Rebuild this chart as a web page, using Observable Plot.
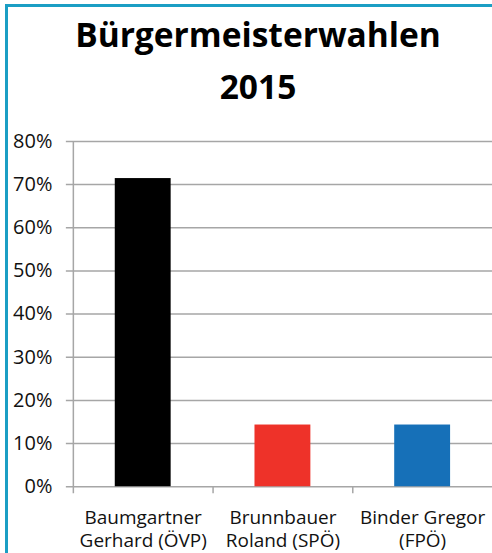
<!DOCTYPE html>
<html>
<head>
<meta charset="utf-8">
<script src="https://cdn.jsdelivr.net/npm/d3@7"></script>
<script src="https://cdn.jsdelivr.net/npm/@observablehq/plot@0.6"></script>
<style>
  html, body { margin: 0; padding: 0; background: #fff; overflow: hidden; width: 492px; height: 553px; }
  #frame { position: absolute; left: 5px; top: 4px; width: 600px; height: 700px; border-top: 3px solid #1b9ec4; border-left: 3px solid #1b9ec4; box-sizing: border-box; }
  .title { position: absolute; left: 8px; width: 500px; text-align: center; font-family: "Open Sans", sans-serif; font-weight: bold; font-size: 33.5px; line-height: 32px; color: #000; white-space: nowrap; }
  #chart { position: absolute; left: 0; top: 115px; }
</style>
</head>
<body>
<div id="frame"></div>
<div class="title" style="top:18px">Bürgermeisterwahlen</div>
<div class="title" style="top:70px">2015</div>
<div id="chart"></div>
<script>
const titleLines = ["Bürgermeisterwahlen", "2015"];
const candidates = ["Baumgartner\nGerhard (ÖVP)", "Brunnbauer\nRoland (SPÖ)", "Binder Gregor\n(FPÖ)"];
const shares = [71.4, 14.3, 14.3];
const colors = ["#000000", "#ee3229", "#1670b8"];
const yTicks = [0, 10, 20, 30, 40, 50, 60, 70, 80];

const data = candidates.map((c, i) => ({candidate: c, share: shares[i], color: colors[i]}));
const grey = "#a6a6a6";
const step = 140;

const chart = Plot.plot({
  width: 493,
  height: 438,
  marginLeft: 73,
  marginRight: 0,
  marginTop: 26,
  marginBottom: 66,
  style: {fontFamily: "'Open Sans', sans-serif", background: "transparent", color: "#111", overflow: "visible"},
  x: {domain: candidates, padding: 0, label: null},
  y: {domain: [0, 80], label: null},
  marks: [
    Plot.ruleY(yTicks, {y: d => d, stroke: grey, strokeWidth: 1.5, insetLeft: -7}),
    Plot.ruleX([candidates[0]], {x: d => d, dx: -step / 2, y1: -1.62, y2: 80, stroke: grey, strokeWidth: 1.5}),
    Plot.ruleX(candidates.slice(1), {x: d => d, dx: -step / 2, y1: -1.62, y2: 0, stroke: grey, strokeWidth: 1.5}),
    Plot.barY(data, {x: "candidate", y: "share", fill: "color", insetLeft: 42, insetRight: 42}),
    Plot.axisY({ticks: yTicks, tickSize: 0, tickPadding: 21, tickFormat: d => d + "%", fontSize: 20, fill: "#111"}),
    Plot.axisX({tickSize: 0, tickPadding: 22, fontSize: 19, lineHeight: 1.17, fill: "#111"})
  ]
});
document.getElementById("chart").appendChild(chart);
</script>
</body>
</html>
